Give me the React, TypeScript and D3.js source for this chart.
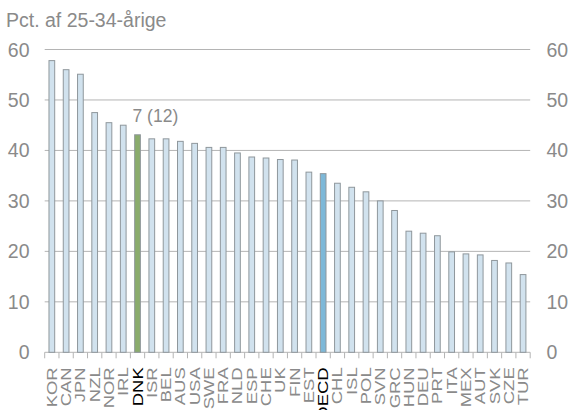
import React from "react";
import * as d3 from "d3";

const categories = ["KOR","CAN","JPN","NZL","NOR","IRL","DNK","ISR","BEL","AUS","USA","SWE","FRA","NLD","ESP","CHE","UK","FIN","EST","OECD","CHL","ISL","POL","SVN","GRC","HUN","DEU","PRT","ITA","MEX","AUT","SVK","CZE","TUR"];
const values = [57.8,56.0,55.1,47.5,45.5,45.0,43.1,42.3,42.3,41.8,41.4,40.6,40.6,39.5,38.7,38.5,38.2,38.1,35.7,35.4,33.5,32.7,31.8,30.0,28.1,24.0,23.6,23.1,19.9,19.5,19.3,18.2,17.7,15.4];
const yTicks = [0,10,20,30,40,50,60];
const unitLabel = "Pct. af 25-34-årige";
const annotation = "7 (12)";
const highlightGreen = "DNK";
const highlightBlue = "OECD";

export default function App() {
  const W = 571, H = 410;
  const left = 44.7, right = 530.2, top = 49.5, bottom = 352.3;
  const x = d3.scaleBand<string>().domain(categories).range([left, right]).paddingInner(0.6).paddingOuter(0.3);
  const y = d3.scaleLinear().domain([0, 60]).range([bottom, top]);
  const step = x.step();
  const font = "'Liberation Sans', Arial, sans-serif";
  const gray = "#8a8a8a";
  const fillFor = (c: string) => c === highlightGreen ? "#8aac6c" : c === highlightBlue ? "#7db8d8" : "#d1e2ee";
  const dnkX = x(highlightGreen)! + x.bandwidth() / 2;
  const dnkV = values[categories.indexOf(highlightGreen)];
  return (
    <svg width={W} height={H} style={{ position: "absolute", left: 0, top: 0, background: "#fff" }} fontFamily={font}>
      <text x={6} y={27} fontSize={19.5} fill={gray}>{unitLabel}</text>
      {yTicks.map(t => (
        <g key={t}>
          <line x1={left} x2={right} y1={y(t)} y2={y(t)} stroke="#b4b4b4" strokeWidth={1} />
          <text x={29.5} y={y(t)} dy="0.36em" textAnchor="end" fontSize={19.5} fill={gray}>{t}</text>
          <text x={546.5} y={y(t)} dy="0.36em" textAnchor="start" fontSize={19.5} fill={gray}>{t}</text>
        </g>
      ))}
      {categories.map((c, i) => (
        <line key={"t" + i} x1={left + i * step} x2={left + i * step} y1={bottom} y2={bottom + 6} stroke="#b4b4b4" />
      ))}
      <line x1={right} x2={right} y1={bottom} y2={bottom + 6} stroke="#b4b4b4" />
      {categories.map((c, i) => (
        <rect key={c} x={x(c)!} y={y(values[i])} width={x.bandwidth()} height={bottom - y(values[i])}
          fill={fillFor(c)} stroke="#8f979c" strokeWidth={1} />
      ))}
      <text x={dnkX - 5} y={y(dnkV) - 13} fontSize={17.5} fill={gray}>{annotation}</text>
      {categories.map((c) => {
        const cx = x(c)! + x.bandwidth() / 2;
        const hl = c === highlightGreen || c === highlightBlue;
        return (
          <text key={"l" + c} transform={`translate(${cx + 5},${bottom + 15}) rotate(-90) scale(1.32,1)`} textAnchor="end"
            fontSize={14} fill={hl ? "#000" : gray}>{c}</text>
        );
      })}
    </svg>
  );
}
